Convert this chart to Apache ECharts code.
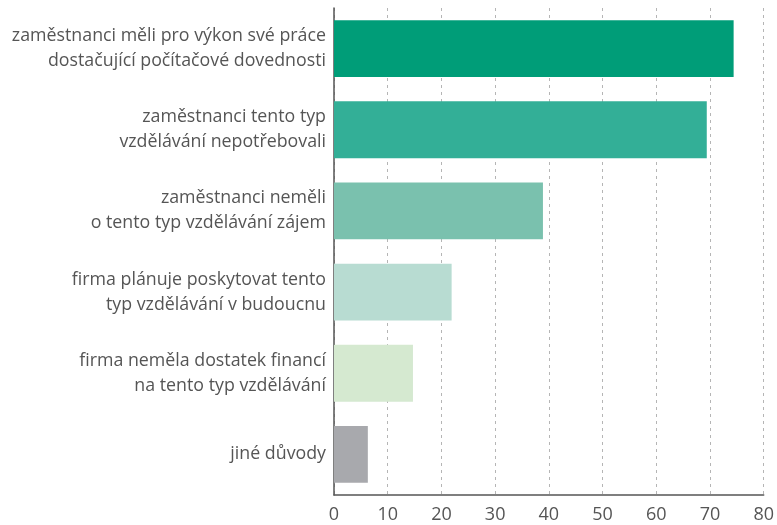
<!DOCTYPE html>
<html>
<head>
<meta charset="utf-8">
<script src="https://cdn.jsdelivr.net/npm/echarts@6/dist/echarts.min.js"></script>
<style>
  html, body { margin: 0; padding: 0; background: #fff; }
  #chart { width: 777px; height: 525px; }
</style>
</head>
<body>
<div id="chart"></div>
<script>
// Reasons why firms did not provide computer-skills training (%)
const categories = [
  'zaměstnanci měli pro výkon své práce\ndostačující počítačové dovednosti',
  'zaměstnanci tento typ\nvzdělávání nepotřebovali',
  'zaměstnanci neměli\no tento typ vzdělávání zájem',
  'firma plánuje poskytovat tento\ntyp vzdělávání v budoucnu',
  'firma neměla dostatek financí\nna tento typ vzdělávání',
  'jiné důvody'
];
const values = [74.4, 69.4, 38.9, 21.9, 14.7, 6.3];
const barColors = ['#009d78', '#33af97', '#7ac1ae', '#b8dcd2', '#d5e9d0', '#a8a9ad'];
const xTicks = { min: 0, max: 80, interval: 10 };

const chart = echarts.init(document.getElementById('chart'), null, { renderer: 'canvas' });
const fontFamily = '"Open Sans", "Noto Sans", sans-serif';

chart.setOption({
  animation: false,
  grid: { left: 334, right: 10, top: 8, bottom: 30 },
  xAxis: {
    type: 'value',
    min: xTicks.min,
    max: xTicks.max,
    interval: xTicks.interval,
    axisLine: { show: true, lineStyle: { color: '#555', width: 1.5 } },
    axisTick: { show: false },
    axisLabel: { color: '#555', fontSize: 18, fontFamily, margin: 11 },
    splitLine: { show: true, lineStyle: { color: '#b5b5b5', type: [3, 4], width: 1 } }
  },
  yAxis: {
    type: 'category',
    inverse: true,
    data: categories,
    axisLine: { show: true, lineStyle: { color: '#555', width: 1.5 } },
    axisTick: { show: false },
    axisLabel: { color: '#555', fontSize: 17.8, fontFamily, lineHeight: 25, margin: 8, align: 'right' },
    splitLine: { show: false }
  },
  series: [{
    type: 'bar',
    barWidth: '70%',
    data: values.map((v, i) => ({ value: v, itemStyle: { color: barColors[i] } }))
  }]
});
</script>
</body>
</html>
